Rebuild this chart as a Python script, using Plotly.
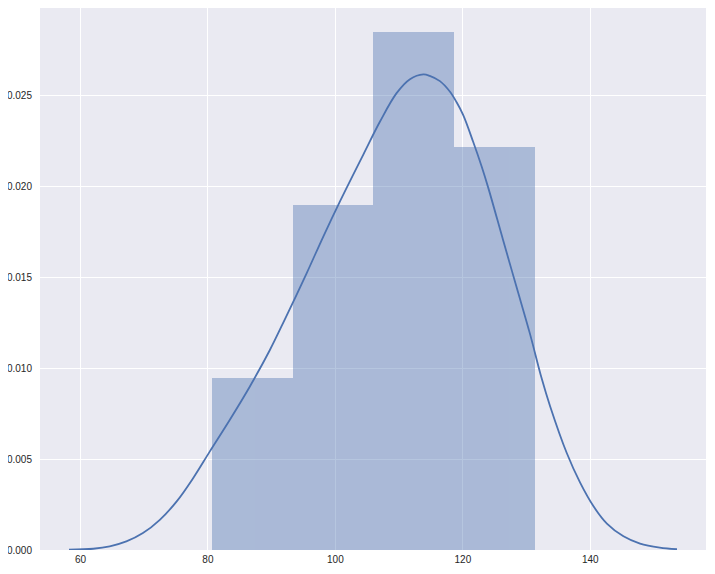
import plotly.graph_objects as go

# Histogram (density)
bin_edges = [80.6, 93.27, 105.93, 118.6, 131.25]
densities = [0.00947, 0.01894, 0.02847, 0.02214]

# KDE curve points
kde_x = [58.2, 62.0, 64.6, 67.2, 69.8, 72.45, 75.1, 77.7, 80.3, 83.44, 86.58,
         89.7, 92.07, 95.5, 98.1, 100.7, 104.4, 107.0, 109.6, 111.7, 113.8,
         114.8, 116.4, 117.95, 119.0, 120.06, 121.6, 122.95, 124.0, 126.3,
         128.4, 130.5, 132.35, 133.7, 136.3, 138.4, 140.5, 142.6, 145.2,
         147.8, 150.9, 153.6]
kde_y = [0.00002, 0.00007, 0.0002, 0.00047, 0.00093, 0.00166, 0.00267, 0.00396,
         0.00542, 0.00716, 0.00899, 0.01098, 0.01268, 0.01522, 0.01723, 0.01915,
         0.02175, 0.02355, 0.02511, 0.02588, 0.02614, 0.02606, 0.02577, 0.0252,
         0.02462, 0.0239, 0.02245, 0.02108, 0.01989, 0.01705, 0.01448, 0.01192,
         0.00945, 0.00789, 0.00533, 0.0037, 0.0024, 0.00145, 0.00075, 0.00035,
         0.00013, 0.00004]

x_ticks = [60, 80, 100, 120, 140]
y_ticks = [0.000, 0.005, 0.010, 0.015, 0.020, 0.025]

centers = [(a + b) / 2 for a, b in zip(bin_edges[:-1], bin_edges[1:])]
widths = [b - a for a, b in zip(bin_edges[:-1], bin_edges[1:])]

fig = go.Figure()
fig.add_trace(go.Bar(x=centers, y=densities, width=widths,
                     marker=dict(color="#4C72B0", line=dict(width=0)),
                     opacity=0.4, showlegend=False, hoverinfo="skip"))
fig.add_trace(go.Scatter(x=kde_x, y=kde_y, mode="lines",
                         line=dict(color="#4C72B0", width=1.8, shape="spline",
                                   smoothing=1.0),
                         showlegend=False))

# page body adds an 8px offset; figure sized to fill the rest of the window
fig.update_layout(
    width=707, height=566,
    margin=dict(l=32, r=9, t=0, b=24),
    plot_bgcolor="#EAEAF2", paper_bgcolor="white",
    font=dict(family="Liberation Sans, Arial", size=10, color="#262626"),
    bargap=0,
)
fig.update_xaxes(range=[53.65, 158.15], tickvals=x_ticks, automargin=False,
                 showgrid=True, gridcolor="white", gridwidth=1,
                 zeroline=False, showline=False, ticks="", ticklabelstandoff=2)
fig.update_yaxes(range=[0, 0.02979], tickvals=y_ticks, tickformat=".3f",
                 automargin=False,
                 showgrid=True, gridcolor="white", gridwidth=1,
                 zeroline=False, showline=False, ticks="", ticklabelstandoff=7)

fig.write_html("out.html")
